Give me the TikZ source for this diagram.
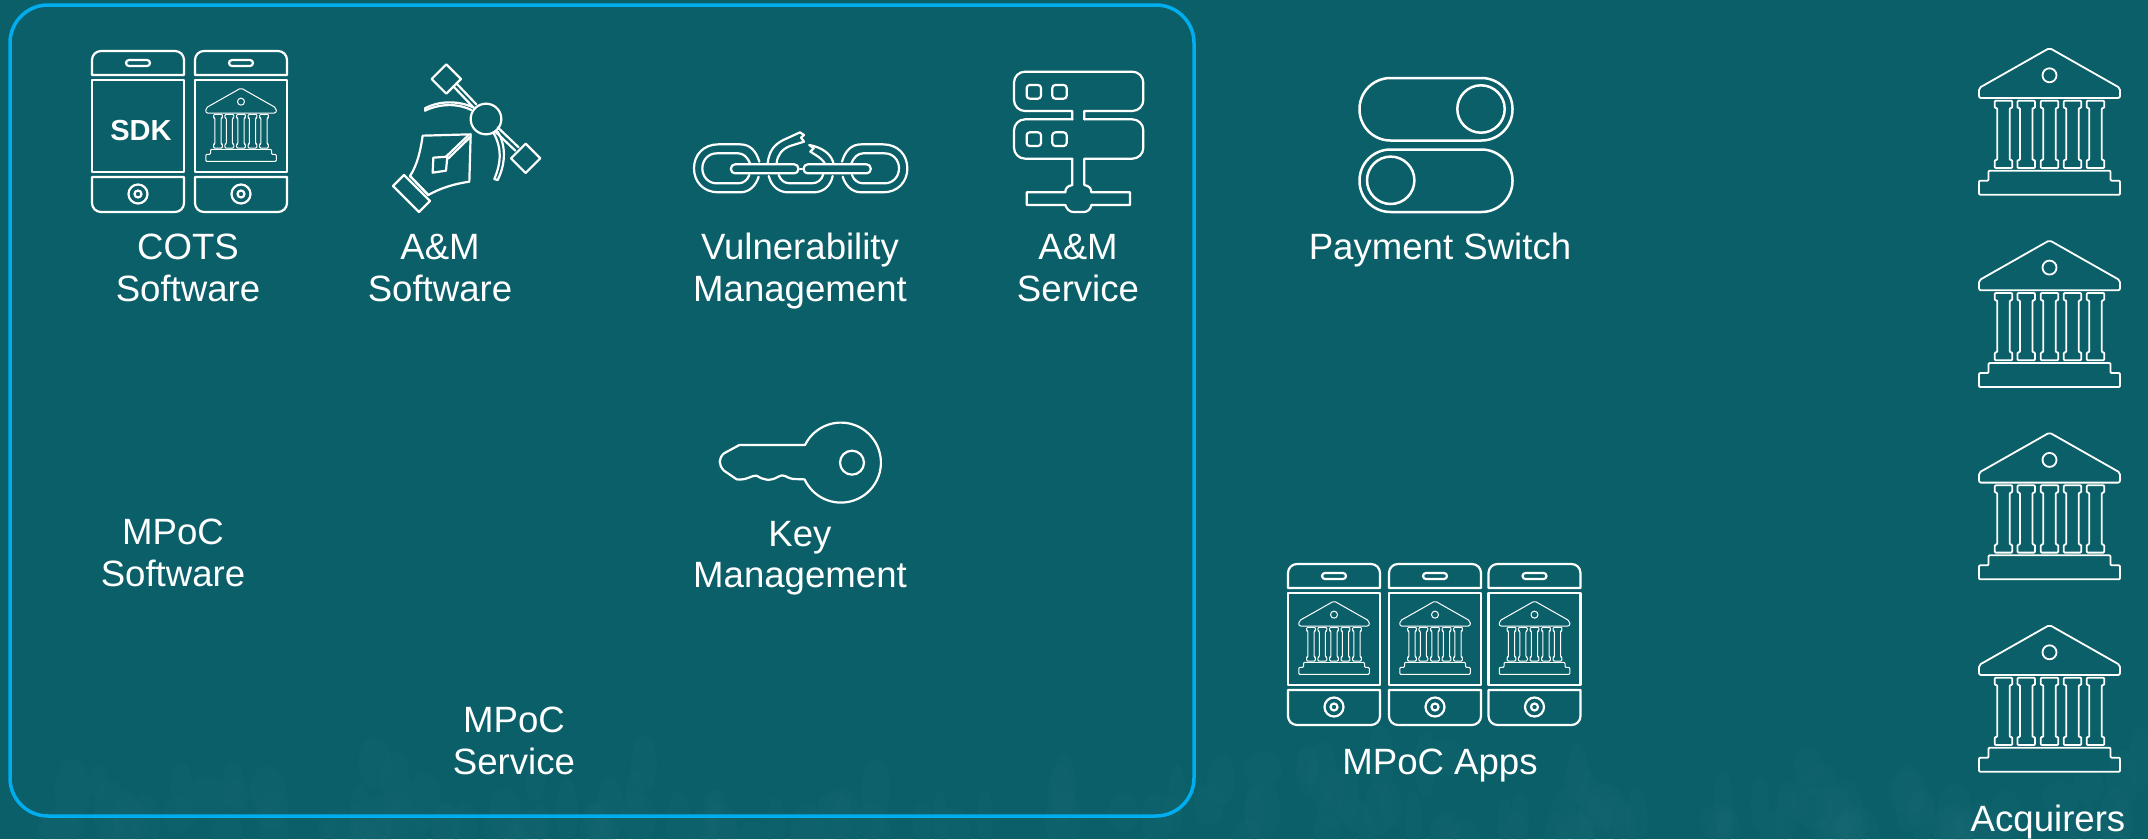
\documentclass[tikz,border=0pt]{standalone}
\usepackage{fontspec}
\setmainfont{Liberation Sans}
\definecolor{bgteal}{HTML}{0B5F69}
\definecolor{bgglow}{HTML}{2A7C85}
\definecolor{framecyan}{HTML}{00AEEF}
\tikzset{
  lbl/.style={text=white,align=center,font=\fontsize{36.6}{41.5}\selectfont,inner sep=0pt},
  ico/.style={draw=white,line width=2.2pt,line join=round,line cap=round},
  zoomed/.style={shift={(#1)},scale=1/3},
  bankicon/.pic={
    \draw[rounded corners=2pt] (0,0) -- (70.5,40) -- (70.5,50) -- (-70.5,50) -- (-70.5,40) -- cycle;
    \draw (0,27.3) circle[radius=7];
    \foreach \c in {-46,-23.3,0,23,46}{
      \draw[rounded corners=1pt] (\c-8.8,52.7) -- (\c+8.8,52.7) -- (\c+8.8,60) -- (\c+6.2,60) -- (\c+6.2,112) -- (\c+8.8,112) -- (\c+8.8,120) -- (\c-8.8,120) -- (\c-8.8,112) -- (\c-6.2,112) -- (\c-6.2,60) -- (\c-8.8,60) -- cycle;
    }
    \draw[rounded corners=1pt] (-61,132.7) -- (-61,122.7) -- (61,122.7) -- (61,132.7) -- (70.5,132.7) -- (70.5,146.7) -- (-70.5,146.7) -- (-70.5,132.7) -- cycle;
  },
  phoneicon/.pic={
    \draw (-46,24) [rounded corners=9pt] -- (-46,0) -- (46,0) [sharp corners] -- (46,24) -- cycle;
    \draw[rounded corners=3pt] (-12,9) rectangle (12,15);
    \draw (-46,29) rectangle (46,121);
    \draw (-46,126) [sharp corners] -- (46,126) [rounded corners=9pt] -- (46,161) -- (-46,161) [sharp corners] -- cycle;
    \draw (0,143) circle[radius=9.5];
    \draw (0,143) circle[radius=3.5];
  },
  bankphone/.pic={
    \pic {phoneicon};
    \pic[scale=.5,line width=1pt] at (0,37) {bankicon};
  }
}
\begin{document}
\begin{tikzpicture}[x=1pt,y=-1pt]
\useasboundingbox (0,0) rectangle (2148,839);
\fill[bgteal] (0,0) rectangle (2148,839);
% textured lower edge
\pgfmathsetseed{4217}
\foreach \i in {1,...,170}{
  \pgfmathsetmacro{\bx}{rnd*2148}
  \pgfmathsetmacro{\by}{839-90*rnd*rnd}
  \pgfmathsetmacro{\bw}{7+rnd*12}
  \pgfmathsetmacro{\bh}{15+rnd*20}
  \fill[bgglow,opacity=.07] (\bx,\by) ellipse[x radius=\bw,y radius=\bh];
}
% frame
\draw[framecyan,line width=3.5pt,rounded corners=38pt] (10,5) rectangle (1194,816);

% phones, top left
\pic[ico] at (138,51) {phoneicon};
\pic[ico] at (241,51) {bankphone};
\node[text=white,inner sep=0pt,font=\fontsize{29}{32}\bfseries\selectfont] (sdk) at (141,131) {SDK};

% pen tool
\begin{scope}[zoomed={360,40},ico]
  \draw (259,73) -- (303,117) -- (259,161) -- (215,117) -- cycle;
  \draw (497,311) -- (541,355) -- (497,399) -- (453,355) -- cycle;
  \draw (378,237) circle[radius=46];
  \draw (280,139) -- (340,202);
  \draw (289,130) -- (349,193);
  \draw (413,262) -- (476,322);
  \draw (405,274) -- (466,332);
  \draw (195,205) .. controls (240,180) and (300,183) .. (342,203);
  \draw (195,212) .. controls (240,190) and (295,190) .. (334,210);
  \draw (195,205) -- (195,212);
  \draw (413,275) .. controls (438,315) and (438,370) .. (413,420);
  \draw (400,278) .. controls (425,320) and (425,365) .. (403,417) -- (413,420);
  \draw (188,287) -- (332,283) -- (328,425) .. controls (280,432) and (240,445) .. (205,465) -- (150,408) .. controls (172,375) and (182,330) .. cycle;
  \draw (220,353) -- (262,350) -- (258,392) -- (218,398) -- cycle;
  \draw (258,350) -- (326,285);
  \draw (264,356) -- (332,290);
  \draw (132,405) -- (210,483) -- (177,516) -- (99,438) -- cycle;
  \draw (150,408) -- (205,465);
\end{scope}

% broken chain
\begin{scope}[zoomed={680,120},ico]
  \foreach \sx/\ox in {1/0,-1/724}{
    \draw (\ox+\sx*238,125) .. controls (\ox+\sx*228,92) and (\ox+\sx*210,73) .. (\ox+\sx*180,73) -- (\ox+\sx*115,73) .. controls (\ox+\sx*70,73) and (\ox+\sx*42,105) .. (\ox+\sx*42,145) .. controls (\ox+\sx*42,185) and (\ox+\sx*70,217) .. (\ox+\sx*115,217) -- (\ox+\sx*180,217) .. controls (\ox+\sx*210,217) and (\ox+\sx*228,195) .. (\ox+\sx*236,170);
    \draw (\ox+\sx*210,130) .. controls (\ox+\sx*203,112) and (\ox+\sx*190,100) .. (\ox+\sx*175,100) -- (\ox+\sx*110,100) .. controls (\ox+\sx*85,100) and (\ox+\sx*67,120) .. (\ox+\sx*67,145) .. controls (\ox+\sx*67,170) and (\ox+\sx*85,190) .. (\ox+\sx*110,190) -- (\ox+\sx*175,190) .. controls (\ox+\sx*190,190) and (\ox+\sx*203,180) .. (\ox+\sx*208,165);
  }
  \draw (266,168) .. controls (274,198) and (295,217) .. (325,217) -- (400,217) .. controls (430,217) and (452,198) .. (458,168);
  \draw (296,165) .. controls (302,180) and (312,190) .. (330,190) -- (395,190) .. controls (412,190) and (425,180) .. (430,163);
  \draw (263,128) .. controls (268,95) and (280,75) .. (310,60) -- (360,37) -- (372,45) -- (363,53) -- (372,65) -- (330,78) .. controls (305,88) and (293,105) .. (290,128);
  \draw (388,75) -- (401,85) -- (391,95) -- (407,105) .. controls (420,113) and (430,122) .. (434,130);
  \draw (388,75) .. controls (425,82) and (452,100) .. (460,128);
  \draw[rounded corners=4pt] (153,133) rectangle (355,160);
  \draw[rounded corners=4pt] (371,133) rectangle (572,160);
  \draw (360,148) -- (366,148);
\end{scope}

% server
\begin{scope}[zoomed={990,60},ico]
  \draw (247,178) -- (247,153) [rounded corners=11pt] -- (72,153) -- (72,35) -- (460,35) -- (460,153) [sharp corners] -- (283,153) -- (283,178);
  \draw (247,178) [rounded corners=11pt] -- (72,178) -- (72,296) [sharp corners] -- (247,296) -- (247,375) .. controls (232,378) and (226,385) .. (226,397) -- (110,397) -- (110,435) -- (226,435) .. controls (230,448) and (240,456) .. (250,456) -- (282,456) .. controls (292,456) and (302,448) .. (304,435) -- (420,435) -- (420,397) -- (304,397) .. controls (304,385) and (298,378) .. (283,375) -- (283,296) [rounded corners=11pt] -- (460,296) -- (460,178) [sharp corners] -- (283,178);
  \foreach \xa/\ya in {110/75,187/75,110/217,187/217}{
    \draw[rounded corners=3pt] (\xa,\ya) rectangle (\xa+43,\ya+41);
  }
\end{scope}

% key
\begin{scope}[zoomed={710,410},ico]
  \draw (285,105) arc[start angle=206.1,end angle=515.2,radius=120] -- (250,207) .. controls (225,203) and (225,190) .. (205,200) .. controls (180,215) and (160,210) .. (140,197) .. controls (125,195) and (110,212) .. (80,208) -- (42,182) .. controls (25,165) and (25,145) .. (42,130) -- (88,105) -- cycle;
  \draw (426,158) circle[radius=36];
\end{scope}

% switches
\begin{scope}[line width=2.5pt,draw=white]
  \draw[rounded corners=31pt] (1359.5,78) rectangle (1512.5,140.5);
  \draw[rounded corners=31pt] (1359.5,149.5) rectangle (1512.5,212);
  \draw (1481,109) circle[radius=23.7];
  \draw (1390.7,180.3) circle[radius=23.7];
\end{scope}

% MPoC app phones
\pic[ico] at (1334,564) {bankphone};
\pic[ico] at (1435,564) {bankphone};
\pic[ico] at (1534.5,564) {bankphone};

% acquirers
\foreach \ty in {48,240.3,432.6,625}{
  \pic[ico,line width=1.8pt] at (2049.5,\ty) {bankicon};
}

% labels
\node[lbl] (cots) at (188,268) {COTS\\Software};
\node[lbl] (amsoft) at (440,268) {A\&M\\Software};
\node[lbl] (vuln) at (800,271) {Vulnerability\\Management};
\node[lbl] (amserv) at (1078,268) {A\&M\\Service};
\node[lbl] (switch) at (1440,250) {Payment Switch};
\node[lbl] (mpocsw) at (173,553) {MPoC\\Software};
\node[lbl] (keym) at (800,558) {Key\\Management};
\node[lbl] (mpocsv) at (514,741) {MPoC\\Service};
\node[lbl] (apps) at (1440,766) {MPoC Apps};
\node[lbl] (acq) at (2048,822) {Acquirers};
\end{tikzpicture}
\end{document}
